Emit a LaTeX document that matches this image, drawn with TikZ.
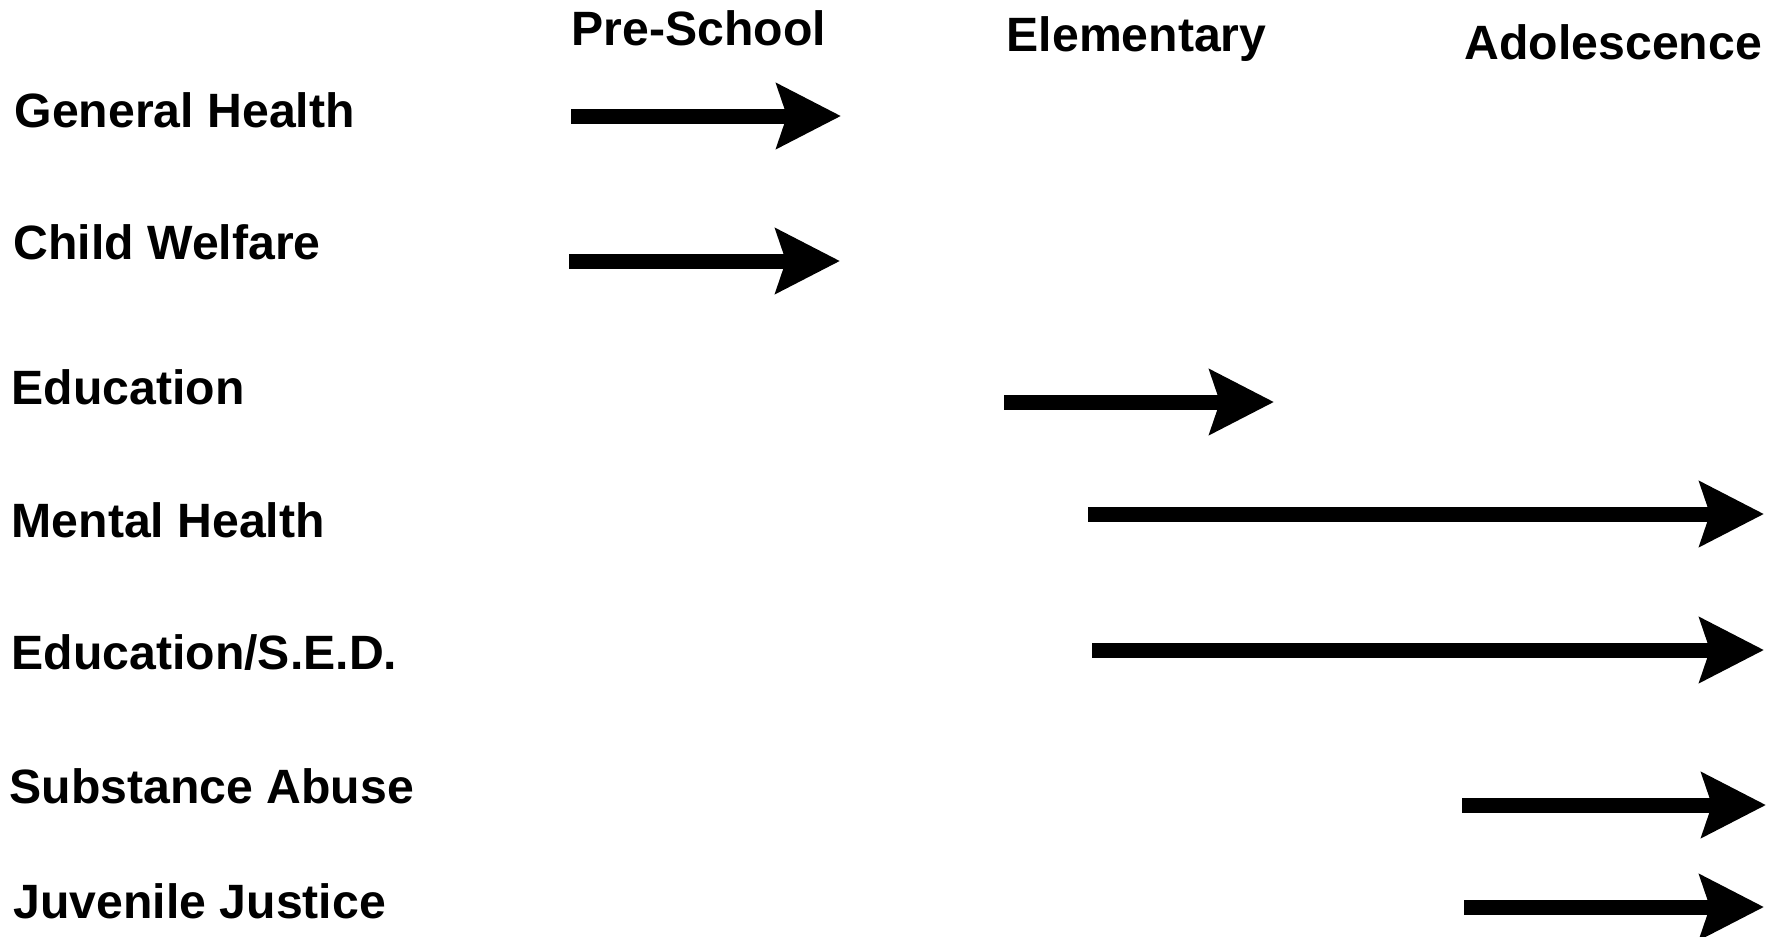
\documentclass[tikz,border=0pt]{standalone}
\usepackage{fontspec}
\setmainfont{Liberation Sans}
\usetikzlibrary{arrows.meta}

\begin{document}
\begin{tikzpicture}[x=0.01cm, y=-0.01cm,
    lbl/.style={anchor=base west, inner sep=0pt, font=\fontsize{13.7}{16}\selectfont\bfseries},
    span/.style={line width=0.15cm, -{Stealth[length=0.64cm, width=0.64cm, inset=0.1cm]}}]
    \useasboundingbox (0,0) rectangle (1773,936);

    \node[lbl] (pre) at (571,45) {Pre-School};
    \node[lbl] (elem) at (1006,51) {Elementary};
    \node[lbl] (adol) at (1464,59) {Adolescence};

    \node[lbl] (gh) at (14,127) {General Health};
    \node[lbl] (cw) at (13,259) {Child Welfare};
    \node[lbl] (ed) at (11,404) {Education};
    \node[lbl] (mh) at (11,537) {Mental Health};
    \node[lbl] (sed) at (11,669) {Education/S.E.D.};
    \node[lbl] (sa) at (9,803) {Substance Abuse};
    \node[lbl] (jj) at (13,918) {Juvenile Justice};

    \coordinate (gh-s) at (571,116);  \coordinate (gh-e) at (841,116);
    \coordinate (cw-s) at (569,261);  \coordinate (cw-e) at (840,261);
    \coordinate (ed-s) at (1004,402); \coordinate (ed-e) at (1274,402);
    \coordinate (mh-s) at (1088,514); \coordinate (mh-e) at (1764,514);
    \coordinate (sed-s) at (1092,650); \coordinate (sed-e) at (1764,650);
    \coordinate (sa-s) at (1462,805); \coordinate (sa-e) at (1766,805);
    \coordinate (jj-s) at (1464,907); \coordinate (jj-e) at (1764,907);

    \draw[span] (gh-s) -- (gh-e);
    \draw[span] (cw-s) -- (cw-e);
    \draw[span] (ed-s) -- (ed-e);
    \draw[span] (mh-s) -- (mh-e);
    \draw[span] (sed-s) -- (sed-e);
    \draw[span] (sa-s) -- (sa-e);
    \draw[span] (jj-s) -- (jj-e);
\end{tikzpicture}
\end{document}
